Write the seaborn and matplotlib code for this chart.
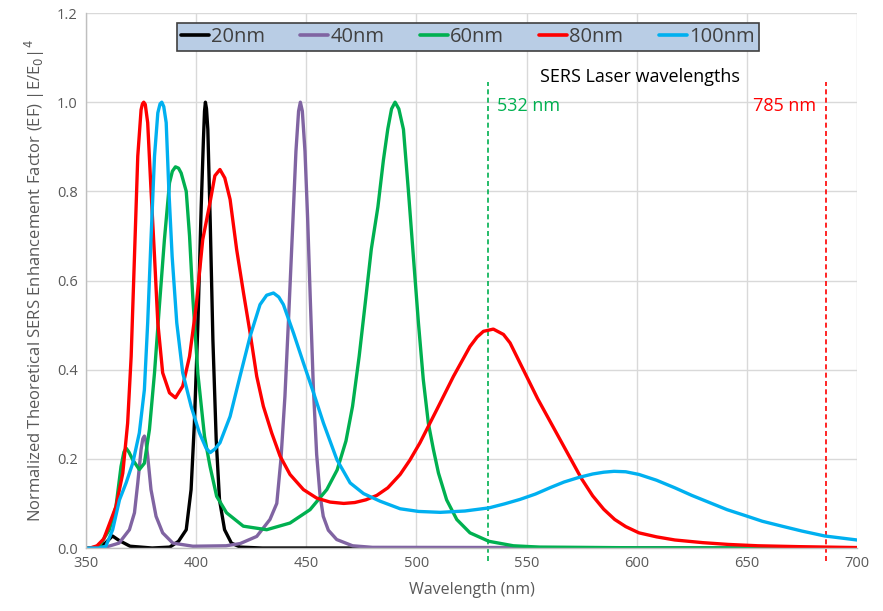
import numpy as np
import pandas as pd
import matplotlib
matplotlib.use("Agg")
import matplotlib.pyplot as plt
import seaborn as sns

# ---- data ----
sizes = ["20nm", "40nm", "60nm", "80nm", "100nm"]
colors = ["#000000", "#8064a2", "#00b050", "#ff0000", "#00b0f0"]

x_20 = [350, 356, 359, 362, 365, 370, 380, 388, 392, 395.5,
        397.7, 399.2, 400.8, 402.3, 403.3, 403.8, 404.2, 404.7, 405.3, 406.4,
        407.6, 409.1, 410.6, 412.9, 416, 420, 430, 700]
y_20 = [0, 0.002, 0.012, 0.027, 0.017, 0.004, 0.0, 0.002, 0.015, 0.041,
        0.131, 0.28, 0.505, 0.767, 0.916, 0.98, 1.0, 0.985, 0.939, 0.729,
        0.467, 0.243, 0.108, 0.041, 0.011, 0.002, 0, 0]

x_40 = [350, 359, 365, 369.7, 372, 373.5, 375, 375.8, 376.5, 377.2,
        378, 379.5, 381.8, 384.8, 389.4, 398.5, 413.6, 420, 427.5, 433.5,
        436.6, 438.5, 440.3, 442, 443.8, 445.3, 446.5, 447.3, 448.2, 449.4,
        450.6, 451.8, 453.2, 454.7, 456.2, 457.7, 460, 463.8, 471, 480,
        700]
y_40 = [0, 0.002, 0.011, 0.041, 0.079, 0.146, 0.221, 0.245, 0.251, 0.24,
        0.206, 0.131, 0.071, 0.034, 0.011, 0.004, 0.005, 0.01, 0.026, 0.064,
        0.1, 0.2, 0.34, 0.52, 0.72, 0.89, 0.98, 1.0, 0.98, 0.89,
        0.74, 0.56, 0.36, 0.21, 0.12, 0.071, 0.04, 0.019, 0.005, 0.0015,
        0]

x_60 = [350, 353, 356, 360.6, 363.6, 365.9, 367.2, 368.2, 369.5, 371.2,
        374.2, 376.5, 378.8, 381.1, 383.3, 385.6, 387.9, 389.2, 390.6, 392,
        393.2, 395.5, 397, 398.5, 400.8, 403.8, 406.3, 409.3, 413.8, 421.4,
        432, 442.6, 451.7, 459.3, 464, 468, 471, 474, 477, 479.5,
        482.5, 485, 487, 488.7, 490.3, 492, 494.1, 496.3, 498.6, 500.9,
        503.1, 505.4, 507.7, 510, 513.7, 518.3, 524.3, 532.9, 544, 556,
        600, 700]
y_60 = [0, 0.0, 0.004, 0.041, 0.093, 0.183, 0.215, 0.224, 0.215, 0.198,
        0.176, 0.19, 0.266, 0.393, 0.542, 0.692, 0.819, 0.845, 0.855, 0.852,
        0.841, 0.80, 0.70, 0.56, 0.39, 0.25, 0.183, 0.116, 0.079, 0.049,
        0.041, 0.056, 0.086, 0.131, 0.175, 0.24, 0.318, 0.43, 0.56, 0.67,
        0.765, 0.87, 0.94, 0.985, 1.0, 0.985, 0.939, 0.804, 0.654, 0.505,
        0.378, 0.28, 0.221, 0.168, 0.108, 0.064, 0.034, 0.015, 0.005, 0.002,
        0.0005, 0]

x_80 = [350, 352, 355, 358, 359.1, 363.6, 366.7, 368.9, 370.5, 372,
        373.5, 375, 375.6, 376.2, 376.9, 378, 379.5, 381.1, 382.6, 384.8,
        387.9, 390.6, 393.9, 397, 400, 403, 406.3, 408.5, 410.8, 413,
        415.4, 418.4, 421.5, 424.5, 427.5, 430.5, 434.3, 438.1, 442.6, 448.7,
        454.7, 460.8, 467, 472, 477, 482, 487, 492.6, 497, 501.6,
        509.2, 516.8, 524.3, 527.5, 530.4, 534.9, 539.5, 542.5, 545.5, 550,
        555, 560, 565, 570, 575, 580, 585, 590, 595, 601,
        609, 617.3, 630, 641.6, 655, 674, 700]
y_80 = [0, 0.0, 0.005, 0.02, 0.034, 0.093, 0.168, 0.28, 0.43, 0.654,
        0.879, 0.983, 0.996, 1.0, 0.995, 0.954, 0.804, 0.654, 0.505, 0.393,
        0.348, 0.337, 0.363, 0.43, 0.542, 0.692, 0.775, 0.835, 0.849, 0.83,
        0.782, 0.669, 0.572, 0.482, 0.385, 0.318, 0.258, 0.206, 0.165, 0.131,
        0.112, 0.103, 0.1, 0.102, 0.108, 0.118, 0.135, 0.165, 0.197, 0.236,
        0.31, 0.385, 0.452, 0.473, 0.486, 0.491, 0.479, 0.46, 0.43, 0.385,
        0.335, 0.29, 0.245, 0.2, 0.155, 0.117, 0.087, 0.064, 0.048, 0.034,
        0.025, 0.018, 0.012, 0.008, 0.005, 0.003, 0.001]

x_100 = [350, 356, 359, 362.1, 365.2, 368.2, 371.2, 374.2, 376.5, 378,
         379.5, 381.1, 382.6, 383.6, 384.4, 385.3, 386.4, 387.6, 389.1, 391.2,
         393.9, 397.7, 401.5, 404.5, 406.4, 408.5, 410.8, 415.4, 419.9, 424.5,
         429, 432, 435.1, 437.5, 439.6, 444.2, 448.7, 453.3, 457.8, 463.9,
         469.9, 476, 483.5, 492.6, 501, 510.8, 522, 532.9, 540, 547,
         554, 561, 567, 573.5, 580, 585, 589.7, 595, 601, 609,
         617.3, 625, 633.5, 641, 649.7, 657, 665.9, 675, 685.3, 700]
y_100 = [0, 0.0, 0.004, 0.041, 0.108, 0.146, 0.19, 0.258, 0.355, 0.505,
         0.692, 0.879, 0.976, 0.996, 1.0, 0.99, 0.954, 0.804, 0.654, 0.505,
         0.393, 0.318, 0.258, 0.224, 0.214, 0.222, 0.236, 0.295, 0.385, 0.475,
         0.546, 0.567, 0.572, 0.563, 0.546, 0.482, 0.415, 0.348, 0.28, 0.198,
         0.146, 0.122, 0.105, 0.088, 0.082, 0.08, 0.083, 0.09, 0.099, 0.109,
         0.121, 0.136, 0.148, 0.158, 0.166, 0.17, 0.172, 0.171, 0.165, 0.152,
         0.135, 0.118, 0.101, 0.086, 0.072, 0.06, 0.049, 0.038, 0.027, 0.018]

laser_x = [532.5, 686]
laser_labels = ["532 nm", "785 nm"]
laser_colors = ["#00b050", "#ff0000"]

x_ticks = [350, 400, 450, 500, 550, 600, 650, 700]
y_ticks = [0.0, 0.2, 0.4, 0.6, 0.8, 1.0, 1.2]

# ---- build long-form table ----
xs = [x_20, x_40, x_60, x_80, x_100]
ys = [y_20, y_40, y_60, y_80, y_100]
frames = []
for s, xv, yv in zip(sizes, xs, ys):
    frames.append(pd.DataFrame({"wl": xv, "ef": yv, "size": s}))
df = pd.concat(frames, ignore_index=True)

sns.set_theme(style="white")
plt.rcParams["font.family"] = ["Open Sans", "DejaVu Sans"]
plt.rcParams["lines.solid_joinstyle"] = "round"
plt.rcParams["lines.solid_capstyle"] = "round"

fig = plt.figure(figsize=(8.83, 6.11), dpi=100)
ax = fig.add_axes([0.0974, 0.1031, 0.8732, 0.8756])

sns.lineplot(data=df, x="wl", y="ef", hue="size", hue_order=sizes,
             palette=dict(zip(sizes, colors)), sort=False, linewidth=2.4,
             ax=ax, estimator=None)

ax.set_xlim(350, 700)
ax.set_ylim(0, 1.2)
ax.set_xticks(x_ticks)
ax.set_yticks(y_ticks)
ax.set_yticklabels([f"{v:.1f}" for v in y_ticks])
ax.tick_params(axis="both", length=0, labelsize=10.5, colors="#595959", pad=6)
ax.grid(True, color="#d9d9d9", linewidth=1)
ax.set_axisbelow(True)
for side in ["top", "right"]:
    ax.spines[side].set_visible(False)
for side in ["left", "bottom"]:
    ax.spines[side].set_color("#bfbfbf")
    ax.spines[side].set_linewidth(1)

ax.set_xlabel("Wavelength (nm)", fontsize=11.5, color="#595959", labelpad=8)
ax.set_ylabel(r"Normalized Theoretical SERS Enhancement Factor (EF) |E/E$_0$|$^4$",
              fontsize=12, color="#595959", labelpad=7)

# laser lines
for lx, lc in zip(laser_x, laser_colors):
    ax.axvline(lx, ymin=-0.025, ymax=0.871, color=lc, linestyle=(0, (3, 2)),
               linewidth=1.2, clip_on=False, zorder=1)

ax.text(601.5, 1.056, "SERS Laser wavelengths", fontsize=13, color="black",
        ha="center", va="center")
ax.text(536.6, 0.992, laser_labels[0], fontsize=13, color=laser_colors[0],
        ha="left", va="center")
ax.text(681.4, 0.992, laser_labels[1], fontsize=13, color=laser_colors[1],
        ha="right", va="center")

leg = ax.legend(ncol=5, loc="upper center", bbox_to_anchor=(0.495, 1.0),
                frameon=True, fancybox=False, framealpha=1,
                facecolor="#b9cde5", edgecolor="#404040", fontsize=14.5,
                handlelength=1.4, handletextpad=0.1, columnspacing=1.75,
                borderpad=0.2, title=None)
for t in leg.get_texts():
    t.set_color("#404040")
for h in leg.get_lines():
    h.set_linewidth(2.6)
leg.get_frame().set_linewidth(1.2)

fig.savefig("out.png", dpi=100)
